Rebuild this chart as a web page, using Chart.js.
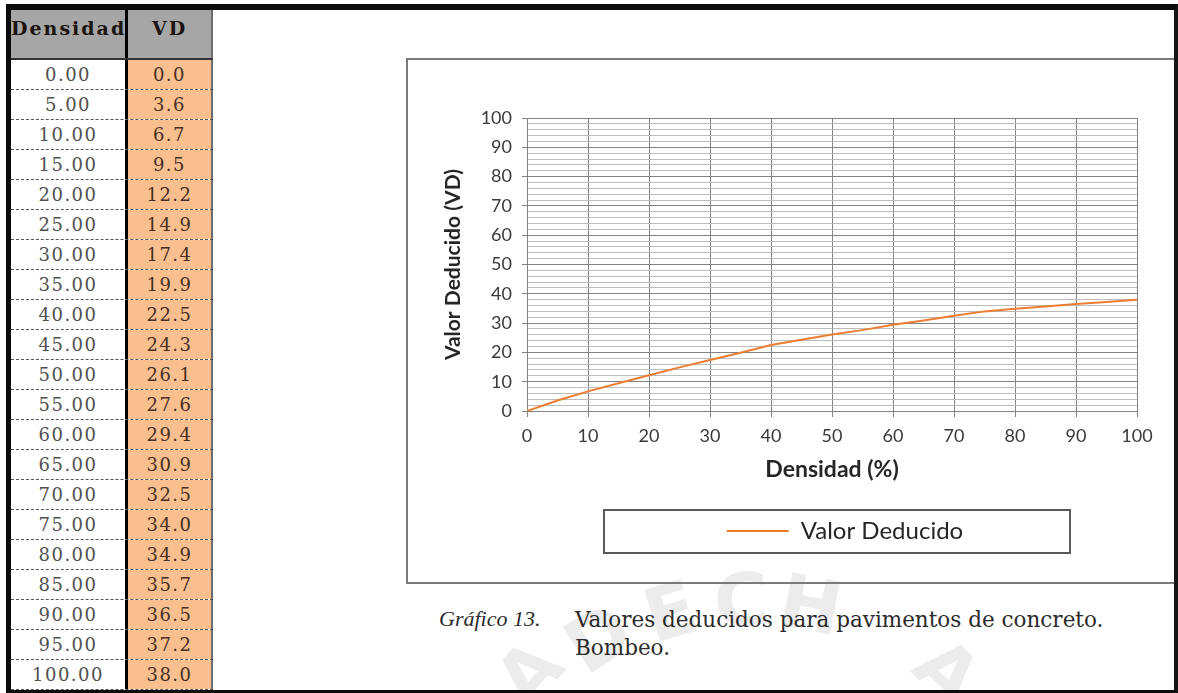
<!DOCTYPE html>
<html lang="es">
<head>
<meta charset="utf-8">
<title>Valores deducidos para pavimentos de concreto. Bombeo.</title>
<script src="https://cdn.jsdelivr.net/npm/chart.js@4.4.1/dist/chart.umd.min.js"></script>
<style>
  html, body { margin: 0; padding: 0; background: #fff; }
  body { width: 1178px; height: 693px; position: relative; overflow: hidden; }
  #marco { position: absolute; left: 6px; top: 4px; width: 1172px; height: 689px; box-sizing: border-box;
           border-top: 6px solid #0b0b0b; border-left: 5px solid #0b0b0b; border-right: 4px solid #151515;
           border-bottom: 3px solid #0b0b0b; z-index: 5; pointer-events: none; }
  #sello { position: absolute; left: 0; top: 0; z-index: 0; }
  #tabla { position: absolute; left: 11px; top: 10px; width: 202px; font-family: "DejaVu Serif", serif; z-index: 2; }
  .fila { display: flex; height: 30px; box-sizing: border-box; border-bottom: 1px dashed #555; }
  .fila > div { box-sizing: border-box; text-align: center; }
  .c1 { width: 117px; border-right: 3px solid #000; background: #fff; color: #505050; }
  .c2 { width: 85px; background: #fabf8f; color: #45301f; border-right: 2px solid #6e6e6e; }
  .fila > div { font-size: 18px; letter-spacing: 1.5px; line-height: 29px; }
  .cab { height: 50px; border-bottom: 2px solid #333; }
  .cab > div { background: #a6a6a6; color: #1b1410; font-weight: bold; font-size: 19px; line-height: 36px; letter-spacing: 2px; }
  #caja { position: absolute; left: 406px; top: 58px; width: 800px; height: 526px; box-sizing: border-box;
          border: 2px solid #7a7a7a; z-index: 1; }
  #lienzo { position: absolute; left: 408px; top: 61px; z-index: 2; }
  #pie { position: absolute; left: 439px; top: 606px; color: #2b2b2b; z-index: 2; }
  #pie .num { position: absolute; left: 0; top: 0; font-family: "Liberation Serif", serif; font-style: italic; font-size: 22px; white-space: nowrap; }
  #pie .txt { position: absolute; left: 136px; top: 0; font-family: "DejaVu Serif", serif; font-size: 21.5px; line-height: 28px; white-space: nowrap; }
</style>
</head>
<body>
<svg id="sello" width="1178" height="693" aria-hidden="true">
  <g fill="#ececec" font-family="DejaVu Sans, sans-serif" font-weight="bold" font-size="74" text-anchor="middle">
    <text transform="translate(548,690) rotate(-48)">A</text>
    <text transform="translate(612,660) rotate(-32)">D</text>
    <text transform="translate(678,636) rotate(-17)">E</text>
    <text transform="translate(742,626) rotate(-2)">C</text>
    <text transform="translate(806,630) rotate(11)">H</text>
    <text transform="translate(930,690) rotate(43)">A</text>
  </g>
</svg>
<div id="marco"></div>
<div id="tabla"></div>
<div id="caja"></div>
<canvas id="lienzo" width="766" height="519"></canvas>
<div id="pie">
  <div class="num">Gráfico 13.</div>
  <div class="txt">Valores deducidos para pavimentos de concreto.<br>Bombeo.</div>
</div>
<script>
// Densidad (%) y valor deducido (VD) para la falla "Bombeo"
const densidad = [0, 5, 10, 15, 20, 25, 30, 35, 40, 45, 50, 55, 60, 65, 70, 75, 80, 85, 90, 95, 100];
const valorDeducido = [0.0, 3.6, 6.7, 9.5, 12.2, 14.9, 17.4, 19.9, 22.5, 24.3, 26.1, 27.6, 29.4, 30.9, 32.5, 34.0, 34.9, 35.7, 36.5, 37.2, 38.0];
const encabezados = ["Densidad", "VD"];
const serieNombre = "Valor Deducido";
const tituloX = "Densidad (%)";
const tituloY = "Valor Deducido (VD)";

// Tabla de valores a la izquierda
const tabla = document.getElementById('tabla');
const cab = document.createElement('div');
cab.className = 'fila cab';
cab.innerHTML = '<div class="c1">' + encabezados[0] + '</div><div class="c2">' + encabezados[1] + '</div>';
tabla.appendChild(cab);
densidad.forEach((d, i) => {
  const f = document.createElement('div');
  f.className = 'fila';
  f.innerHTML = '<div class="c1">' + d.toFixed(2) + '</div><div class="c2">' + valorDeducido[i].toFixed(1) + '</div>';
  tabla.appendChild(f);
});

// Leyenda algo desplazada a la derecha y enmarcada en un recuadro
const marcoLeyenda = {
  id: 'marcoLeyenda',
  afterLayout(chart) {
    if (chart.legend) { chart.legend.left += 13; chart.legend.right += 13; }
  },
  afterDraw(chart) {
    const hb = chart.legend && chart.legend.legendHitBoxes && chart.legend.legendHitBoxes[0];
    if (!hb) return;
    const cx = hb.left + hb.width / 2;
    const cy = hb.top + hb.height / 2;
    const c = chart.ctx;
    c.save();
    c.strokeStyle = '#5a5a5a';
    c.lineWidth = 2;
    c.strokeRect(Math.round(cx - 241), Math.round(cy - 21), 466, 43);
    c.restore();
  }
};

const naranja = '#ED7D31';
const gris = '#838383';
const grisClaro = '#bdbdbd';
const fuente = 'Lato, "Open Sans", sans-serif';

new Chart(document.getElementById('lienzo'), {
  type: 'line',
  data: {
    datasets: [{
      label: serieNombre,
      data: densidad.map((d, i) => ({ x: d, y: valorDeducido[i] })),
      borderColor: naranja,
      backgroundColor: naranja,
      borderWidth: 2,
      pointRadius: 0,
      tension: 0
    }]
  },
  options: {
    responsive: false,
    animation: false,
    devicePixelRatio: 1,
    layout: { padding: { left: 30, top: 57, right: 37, bottom: 27 } },
    plugins: {
      legend: {
        position: 'bottom',
        fullSize: false,
        labels: {
          boxWidth: 62, boxHeight: 0, padding: 34,
          color: '#262626',
          font: { family: fuente, size: 24 }
        }
      },
      tooltip: { enabled: false }
    },
    scales: {
      x: {
        type: 'linear', min: 0, max: 100,
        ticks: { stepSize: 10, padding: 8, color: '#3a3a3a', font: { family: fuente, size: 18 } },
        grid: { color: gris, tickColor: gris, tickLength: 6 },
        border: { color: gris },
        title: { display: true, text: tituloX, color: '#262626', font: { family: fuente, size: 23, weight: 'bold' }, padding: { top: 6, bottom: 2 } },
        afterFit(s) { s.height = 74; }
      },
      y: {
        type: 'linear', min: 0, max: 100,
        ticks: {
          stepSize: 2, autoSkip: false, padding: 10, color: '#3a3a3a',
          font: { family: fuente, size: 18 },
          callback: v => (v % 10 === 0 ? String(v) : '')
        },
        grid: {
          color: c => (c.tick && c.tick.value % 10 === 0 ? gris : grisClaro),
          tickColor: c => (c.tick && c.tick.value % 10 === 0 ? gris : 'rgba(0,0,0,0)'),
          tickLength: 5
        },
        border: { color: gris },
        title: { display: true, text: tituloY, color: '#262626', font: { family: fuente, size: 21, weight: 'bold' }, padding: { top: 3, bottom: 4 } },
        afterFit(s) { s.width = 89; }
      }
    }
  },
  plugins: [marcoLeyenda]
});
</script>
</body>
</html>
